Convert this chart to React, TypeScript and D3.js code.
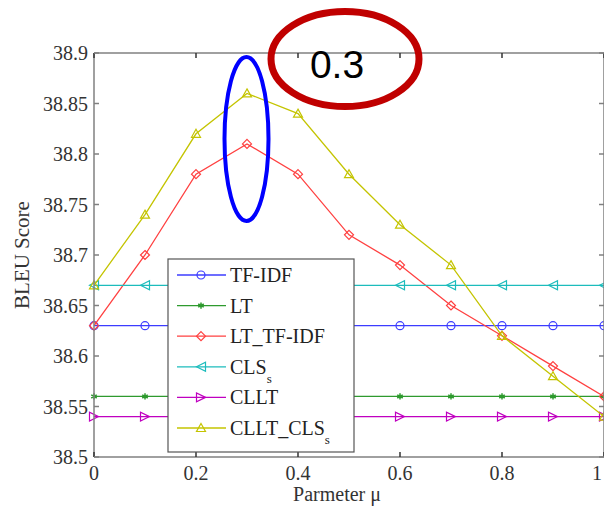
import React from "react";
import * as d3 from "d3";

// parameter mu values
const mu = [0, 0.1, 0.2, 0.3, 0.4, 0.5, 0.6, 0.7, 0.8, 0.9, 1];

const tfIdf = [38.63, 38.63, 38.63, 38.63, 38.63, 38.63, 38.63, 38.63, 38.63, 38.63, 38.63];
const lt = [38.56, 38.56, 38.56, 38.56, 38.56, 38.56, 38.56, 38.56, 38.56, 38.56, 38.56];
const ltTfIdf = [38.63, 38.7, 38.78, 38.81, 38.78, 38.72, 38.69, 38.65, 38.62, 38.59, 38.56];
const clsS = [38.67, 38.67, 38.67, 38.67, 38.67, 38.67, 38.67, 38.67, 38.67, 38.67, 38.67];
const cllt = [38.54, 38.54, 38.54, 38.54, 38.54, 38.54, 38.54, 38.54, 38.54, 38.54, 38.54];
const clltClsS = [38.67, 38.74, 38.82, 38.86, 38.84, 38.78, 38.73, 38.69, 38.62, 38.58, 38.54];

const xTicks = [0, 0.2, 0.4, 0.6, 0.8, 1];
const yTicks = [38.5, 38.55, 38.6, 38.65, 38.7, 38.75, 38.8, 38.85, 38.9];

const series = [
  { name: "TF-IDF", sub: "", values: tfIdf, color: "#3c3cff", marker: "circle" },
  { name: "LT", sub: "", values: lt, color: "#2e9a2e", marker: "star" },
  { name: "LT_TF-IDF", sub: "", values: ltTfIdf, color: "#ff4040", marker: "diamond" },
  { name: "CLS", sub: "s", values: clsS, color: "#1cbcbc", marker: "left" },
  { name: "CLLT", sub: "", values: cllt, color: "#c000c0", marker: "right" },
  { name: "CLLT_CLS", sub: "s", values: clltClsS, color: "#c4c400", marker: "up" },
];

const serif = { fontFamily: "Liberation Serif, DejaVu Serif, serif" };

function Marker({ kind, x, y, color }: { kind: string; x: number; y: number; color: string }) {
  const s = 4.5;
  let d = "";
  if (kind === "circle") {
    return <circle cx={x} cy={y} r={4} fill="none" stroke={color} strokeWidth={1.2} />;
  }
  if (kind === "star") {
    const p = d3.symbol(d3.symbolAsterisk, 28)();
    return <path d={p || ""} transform={`translate(${x},${y})`} fill="none" stroke={color} strokeWidth={1.5} />;
  }
  if (kind === "diamond") d = `M${x},${y - s} L${x + s},${y} L${x},${y + s} L${x - s},${y} Z`;
  if (kind === "left") d = `M${x - s},${y} L${x + s},${y - s} L${x + s},${y + s} Z`;
  if (kind === "right") d = `M${x + s},${y} L${x - s},${y - s} L${x - s},${y + s} Z`;
  if (kind === "up") d = `M${x},${y - s} L${x + s},${y + s - 1} L${x - s},${y + s - 1} Z`;
  return <path d={d} fill="none" stroke={color} strokeWidth={1.2} />;
}

export default function App() {
  const width = 604;
  const height = 510;
  const left = 94, right = 604, top = 53, bottom = 457;

  const x = d3.scaleLinear().domain([0, 1]).range([left, right]);
  const y = d3.scaleLinear().domain([38.5, 38.9]).range([bottom, top]);

  const line = d3
    .line<number>()
    .x((_, i) => x(mu[i]))
    .y((d) => y(d));

  const axisColor = "#808080";
  const legX = 168, legY = 259, legW = 186, legH = 193;

  return (
    <svg width={width} height={height} style={{ position: "absolute", left: 0, top: 0, background: "#fff" }}>
      <rect x={0} y={0} width={width} height={height} fill="#fff" />

      {/* lines */}
      {series.map((s) => (
        <g key={s.name + s.sub}>
          <path d={line(s.values) || ""} fill="none" stroke={s.color} strokeWidth={1.3} />
          {s.values.map((v, i) => (
            <Marker key={i} kind={s.marker} x={x(mu[i])} y={y(v)} color={s.color} />
          ))}
        </g>
      ))}

      {/* axes box */}
      <g stroke={axisColor} strokeWidth={1.5} fill="none">
        <line x1={left} y1={top} x2={right} y2={top} />
        <line x1={left} y1={bottom} x2={right} y2={bottom} />
        <line x1={left} y1={top} x2={left} y2={bottom} />
        <line x1={right} y1={top} x2={right} y2={bottom} />
        {xTicks.map((t) => (
          <g key={"xt" + t}>
            <line x1={x(t)} y1={bottom} x2={x(t)} y2={bottom - 5} stroke="#333" />
            <line x1={x(t)} y1={top} x2={x(t)} y2={top + 5} stroke="#333" />
          </g>
        ))}
        {yTicks.map((t) => (
          <g key={"yt" + t}>
            <line x1={left} y1={y(t)} x2={left + 5} y2={y(t)} />
            <line x1={right} y1={y(t)} x2={right - 5} y2={y(t)} />
          </g>
        ))}
      </g>

      {/* tick labels */}
      {yTicks.map((t) => (
        <text key={"yl" + t} x={left - 6} y={y(t)} dy="0.35em" textAnchor="end"
          style={serif} fontSize={20} fill="#333">
          {d3.format("")(t)}
        </text>
      ))}
      {xTicks.map((t) => (
        <text key={"xl" + t} x={t === 1 ? x(t) - 2 : x(t)} y={480} textAnchor={t === 1 ? "end" : "middle"}
          style={serif} fontSize={20} fill="#333">
          {d3.format("")(t)}
        </text>
      ))}

      <text x={337} y={501} textAnchor="middle" style={serif} fontSize={20} fill="#333">
        Parmeter μ
      </text>
      <text transform="translate(29,255) rotate(-90)" textAnchor="middle" style={serif} fontSize={21} fill="#333">
        BLEU Score
      </text>

      {/* legend */}
      <g>
        <rect x={legX} y={legY} width={legW} height={legH} fill="#fff" stroke="#555" strokeWidth={1.2} />
        {series.map((s, i) => {
          const ly = 275 + i * 30.6;
          return (
            <g key={"leg" + i}>
              <line x1={177} x2={226} y1={ly} y2={ly} stroke={s.color} strokeWidth={1.3} />
              <Marker kind={s.marker} x={201} y={ly} color={s.color} />
              <text x={230} y={ly} dy="0.35em" style={serif} fontSize={20} fill="#222">
                {s.name}
                {s.sub && (
                  <tspan dy="9" fontSize={13}>
                    {s.sub}
                  </tspan>
                )}
              </text>
            </g>
          );
        })}
      </g>

      {/* annotations */}
      <ellipse cx={246.5} cy={139} rx={22} ry={82} fill="none" stroke="#0000ff" strokeWidth={4} />
      <ellipse cx={345} cy={59} rx={74} ry={47.5} fill="none" stroke="#c00000" strokeWidth={7} />
      <text x={337} y={78} textAnchor="middle" style={{ fontFamily: "Liberation Sans, Arial, sans-serif" }} fontSize={39} fill="#000">
        0.3
      </text>
    </svg>
  );
}
